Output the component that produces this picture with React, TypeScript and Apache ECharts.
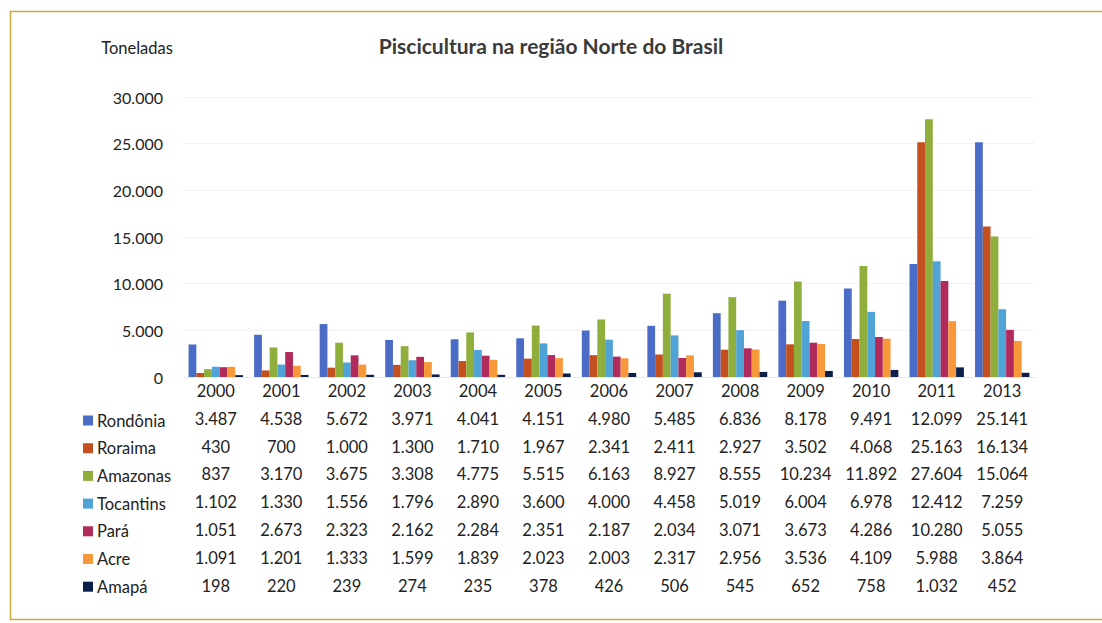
import React, { useEffect, useRef } from "react";
import * as echarts from "echarts";

const years = ["2000", "2001", "2002", "2003", "2004", "2005", "2006", "2007", "2008", "2009", "2010", "2011", "2013"];
const rondonia = [3487, 4538, 5672, 3971, 4041, 4151, 4980, 5485, 6836, 8178, 9491, 12099, 25141];
const roraima = [430, 700, 1000, 1300, 1710, 1967, 2341, 2411, 2927, 3502, 4068, 25163, 16134];
const amazonas = [837, 3170, 3675, 3308, 4775, 5515, 6163, 8927, 8555, 10234, 11892, 27604, 15064];
const tocantins = [1102, 1330, 1556, 1796, 2890, 3600, 4000, 4458, 5019, 6004, 6978, 12412, 7259];
const para = [1051, 2673, 2323, 2162, 2284, 2351, 2187, 2034, 3071, 3673, 4286, 10280, 5055];
const acre = [1091, 1201, 1333, 1599, 1839, 2023, 2003, 2317, 2956, 3536, 4109, 5988, 3864];
const amapa = [198, 220, 239, 274, 235, 378, 426, 506, 545, 652, 758, 1032, 452];

const seriesNames = ["Rondônia", "Roraima", "Amazonas", "Tocantins", "Pará", "Acre", "Amapá"];
const seriesData = [rondonia, roraima, amazonas, tocantins, para, acre, amapa];
const colors = ["#4a6cc6", "#c4501f", "#8fae3c", "#4fa3d6", "#b02a5c", "#f7993a", "#0b1f4a"];

const fmt = (n: number) => String(n).replace(/\B(?=(\d{3})+(?!\d))/g, ".");
const FONT = "Lato, 'Open Sans', sans-serif";

export default function App() {
  const ref = useRef<HTMLDivElement>(null);
  useEffect(() => {
    if (!ref.current) return;
    const chart = echarts.init(ref.current, undefined, { renderer: "svg" });
    chart.setOption({
      animation: false,
      backgroundColor: "#ffffff",
      textStyle: { fontFamily: FONT },
      title: {
        text: "Piscicultura na região Norte do Brasil",
        left: 546,
        textAlign: "center",
        top: 30,
        textStyle: { fontSize: 21, fontWeight: "bold", color: "#3a3a3a", fontFamily: FONT },
      },
      legend: {
        orient: "vertical",
        left: 78,
        top: 407,
        itemWidth: 10,
        itemHeight: 10,
        itemGap: 10.7,
        icon: "rect",
        data: seriesNames,
        textStyle: { fontSize: 16.5, lineHeight: 17, color: "#222", fontFamily: FONT, padding: [0, 0, 0, -1] },
        selectedMode: false,
      },
      grid: { left: 183, right: 67, top: 97, bottom: 246, containLabel: false },
      xAxis: {
        type: "category",
        data: years,
        axisLine: { show: true, lineStyle: { color: "#e8e8e8" } },
        axisTick: { show: false },
        axisLabel: {
          interval: 0,
          margin: 0,
          color: "#222",
          fontSize: 16.5,
          lineHeight: 27.8,
          fontFamily: FONT,
          formatter: (value: string, idx: number) =>
            [value, ...seriesData.map((s) => fmt(s[idx]))].join("\n"),
        },
      },
      yAxis: {
        type: "value",
        min: 0,
        max: 30000,
        interval: 5000,
        name: "Toneladas",
        nameLocation: "end",
        nameGap: 0,
        nameTextStyle: { fontSize: 16.5, color: "#222", fontFamily: FONT, align: "center", padding: [0, 0, 41, -92] },
        axisLine: { show: false },
        axisTick: { show: false },
        splitLine: { lineStyle: { color: "#f2f2f2" } },
        axisLabel: { color: "#222", fontSize: 16, margin: 20, fontFamily: FONT, formatter: (v: number) => fmt(v) },
      },
      series: seriesNames.map((name, i) => ({
        name,
        type: "bar",
        data: seriesData[i],
        barGap: "0%",
        barCategoryGap: "17%",
        itemStyle: { color: colors[i] },
      })),
      graphic: [
        {
          type: "polyline",
          shape: { points: [[1102, 11.5], [10.5, 11.5], [10.5, 619.5], [1102, 619.5]] },
          style: { stroke: "#c9a93c", lineWidth: 1.5, fill: "none" },
          silent: true,
        },
      ],
    });
    return () => chart.dispose();
  }, []);
  return <div ref={ref} style={{ position: "fixed", left: 0, top: 0, width: 1102, height: 623 }} />;
}
